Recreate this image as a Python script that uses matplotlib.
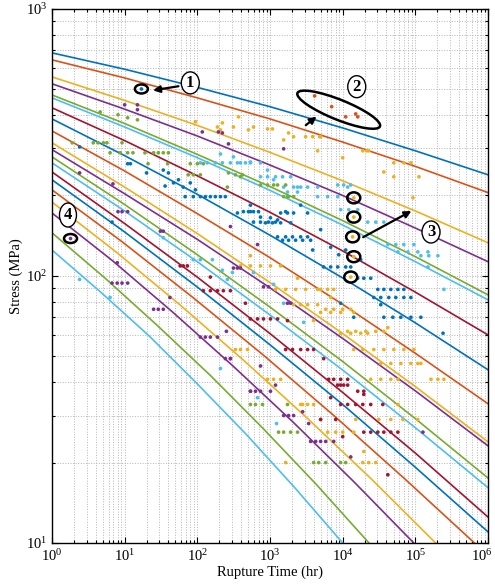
import numpy as np
import matplotlib
matplotlib.use('Agg')
import matplotlib.pyplot as plt
from matplotlib.patches import Ellipse
from matplotlib.transforms import ScaledTranslation

plt.rcParams['font.family'] = ['Liberation Serif', 'DejaVu Serif']
plt.rcParams['mathtext.fontset'] = 'stix'

# MATLAB default colour order
C_BLUE, C_ORANGE, C_YELLOW = '#0072BD', '#D95319', '#EDB120'
C_PURPLE, C_GREEN, C_CYAN, C_RED = '#7E2F8E', '#77AC30', '#4DBEEE', '#A2142F'
order = [C_BLUE, C_ORANGE, C_YELLOW, C_PURPLE, C_GREEN, C_CYAN, C_RED]

# model isotherms (top = lowest temperature)
t_full = [1, 10, 1e2, 1e3, 1e4, 1e5, 1e6]
curve_t = [t_full] * 15 + [
    [1, 9.3, 87, 804, 7450, 69500, 6.5e5],
    [1, 7.6, 58, 437, 3310, 25100, 1.9e5],
    [1, 6.8, 46, 309, 2090, 14100, 9.5e4],
    [1, 5.3, 28, 151, 807, 4300, 2.3e4],
    [1, 4.6, 22, 100, 465, 2150, 1e4],
]
curve_s = [
    [684, 594, 508, 430, 358, 294, 239],
    [644, 551, 464, 387, 317, 257, 205],
    [556, 454, 366, 290, 227, 175, 133],
    [524, 421, 334, 260, 200, 151, 113],
    [476, 372, 285, 216, 161, 118, 84.9],
    [464, 361, 277, 209, 155, 113, 81.3],
    [426, 321, 237, 173, 124, 86.9, 60.1],
    [387, 282, 202, 142, 98.2, 66.7, 44.5],
    [349, 247, 171, 117, 78.2, 51.3, 33.2],
    [315, 215, 144, 94.4, 60.8, 38.5, 23.9],
    [297, 203, 137, 90.2, 58.3, 37.1, 23.1],
    [279, 185, 120, 76.4, 47.8, 29.2, 17.5],
    [265, 175, 113, 71.4, 44.4, 27.0, 16.1],
    [245, 157, 98.9, 60.8, 36.6, 21.7, 12.5],
    [229, 146, 90.8, 55.2, 33.0, 19.2, 11.0],
    [210, 134, 83.0, 50.6, 30.1, 17.5, 10],
    [189, 123, 77.8, 48.2, 29.2, 17.3, 10],
    [172, 114, 73.1, 46.0, 28.3, 17.0, 10],
    [145, 98.4, 65.3, 42.4, 26.8, 16.6, 10],
    [125, 87.3, 59.4, 39.4, 25.6, 16.2, 10],
]

# experimental rupture data, grouped by colour
blue_t = [17, 2.4, 11, 12, 20, 6.7, 34, 40, 47, 55, 64, 80, 36, 94,
          68, 88, 110, 129, 151, 177, 208, 243,
          356, 538, 740, 1015, 1270, 1740,
          867, 1080, 1400, 1920,
          1270, 1640, 2040, 2640, 3290,
          431, 505, 592, 694, 538, 1640, 2640,
          592, 740, 953, 1190,
          1490, 1800, 2250, 2810, 3620,
          5470, 6830, 8530, 11000, 12900,
          16100, 19500, 24300,
          30400, 36800, 45900, 57400, 69400,
          26800, 33400, 43100, 53800, 69400, 86700,
          36800, 48900, 63100, 86700, 119000,
          240000, 14200, 9380, 33400, 6830, 8810, 11000, 17700, 4970, 3860,
          1400, 2110, 3290]
blue_s = [501, 304, 263, 263, 243, 159, 249, 243, 223, 229, 215, 223, 217, 210,
          198, 198, 198, 198, 198, 198, 198, 198,
          172, 174, 166, 165, 162, 172,
          158, 158, 158, 158,
          140, 140, 140, 140, 140,
          174, 174, 174, 174, 184, 174, 184,
          159, 159, 159, 159,
          136, 136, 136, 136, 136,
          108, 108, 108, 108, 108,
          98, 98, 98,
          89, 89, 89, 89, 89,
          83, 83, 83, 83, 83, 83,
          70, 70, 70, 70, 70,
          61, 70, 79, 78, 128, 120, 125, 115, 149, 125,
          172, 172, 172]

orange_t = [4110, 7050, 11000, 15100, 16100]
orange_s = [472, 430, 394, 404, 394]

yellow_t = [592, 925, 1080, 1800, 2110, 3090, 3860, 4820, 4520, 10000,
            18900, 21400, 22800, 50500, 69400, 86700, 36800, 50500, 112000, 92500,
            94, 189, 208, 314, 368, 221, 505, 1540, 4970,
            14200, 14200, 13700, 14200, 12900,
            392, 538, 740, 1015, 1400, 538,
            1190, 1640, 2250, 3090, 4520, 4970, 6210, 7520,
            2110, 2640, 3290, 4520,
            334, 392, 490, 925, 1120, 1400,
            2810, 3290, 3980, 57400, 3980,
            4970, 6830, 9380, 14200, 6830,
            11700, 15100, 20800, 28500, 36800, 41800,
            14200, 18900, 26800, 36800, 50500, 69400, 95300, 108000, 33400,
            24300, 33400, 45900, 57400, 164000, 204000, 247000,
            5830, 7520, 10000, 12900,
            9380, 12900, 17700, 22100,
            45900, 63100, 86700, 119000,
            2390, 6210, 8010, 10000, 14200, 19500,
            18900, 22800, 28500, 1640,
            4970, 15100, 31400, 45900, 67300, 108000, 2640]
yellow_s = [361, 355, 355, 343, 332, 332, 332, 332, 294, 277,
            294, 294, 294, 265, 265, 265, 245, 235, 235, 196,
            378, 361, 352, 361, 394, 374, 352, 323, 332,
            196, 166, 140, 118, 99,
            109, 109, 109, 109, 109, 119,
            89, 89, 89, 89, 89, 89, 89, 89,
            78, 78, 78, 78,
            53, 53, 53, 41, 41, 41,
            33, 33, 33, 33, 68,
            73, 73, 73, 73, 83,
            62, 62, 62, 62, 62, 64,
            53, 53, 53, 53, 53, 53, 53, 47, 47,
            41, 41, 41, 41, 41, 41, 41,
            75, 75, 75, 75,
            61, 61, 61, 61,
            47, 47, 47, 47,
            98, 26, 26, 26, 26, 22,
            20, 20, 20, 20,
            29, 29, 29, 29, 29, 29, 33]

cyan_t = [110, 137, 177, 221, 285, 356, 459, 208, 314, 538, 925,
          740, 925, 1190, 1490, 1920,
          2110, 2640, 3290, 4520, 1540, 2390, 1740, 2390, 1120,
          392, 538, 740, 4520, 6210, 8530, 11700,
          8530, 10300, 12900, 9380, 12100, 16100,
          22100, 28500, 36800,
          41800, 53800, 69400, 95300,
          57400, 78900, 108000, 149000, 149000,
          119000, 153000, 204000, 247000,
          2.4, 6.3, 34, 110, 161, 221, 259, 208, 88, 304, 592,
          1120, 1540, 2900, 673, 1230]
cyan_s = [265, 265, 265, 265, 265, 265, 265, 286, 279, 267, 249,
          235, 235, 235, 235, 235,
          215, 215, 215, 215, 215, 215, 206, 206, 229,
          265, 265, 265, 198, 198, 198, 215,
          219, 219, 219, 177, 177, 177,
          159, 159, 159,
          131, 131, 131, 131,
          123, 123, 123, 123, 108,
          119, 119, 119, 89,
          97, 83, 139, 115, 115, 105, 97, 45, 115, 103, 103,
          93, 79, 67, 35, 28]

purple_t = [10, 15, 15, 2.4, 6.9, 195, 268, 1540, 117, 221, 285, 673, 1.8,
            8.1, 9.2, 11, 31, 34, 7.9, 6.7, 7.9, 9.2, 11, 42,
            25, 29, 34, 110, 129, 151, 189, 285, 251, 243, 285,
            813, 953, 314, 356, 392, 1740, 1920,
            1540, 1800, 2110, 538, 1190, 740, 2810, 3400,
            3620, 4250, 4970, 5830, 7520, 12900, 127000,
            538, 631, 740, 1015]
purple_s = [437, 437, 419, 243, 221, 346, 312, 299, 346, 343, 153, 131, 138,
            174, 174, 174, 147, 147, 112, 94, 94, 94, 94, 83,
            75, 75, 75, 59, 59, 59, 59, 49, 62, 49, 49,
            91, 91, 107, 107, 107, 79, 79,
            30, 30, 30, 37, 39, 46, 31, 28,
            24, 24, 24, 24, 24, 21, 26,
            37, 37, 37, 37]

green_t = [8.1, 11, 15, 4.6,
           1.9, 3.7, 4.3, 5.1, 5.7, 9.2,
           6.3, 8.7, 11, 13, 19, 25, 29, 34, 40,
           21, 39, 80, 100, 121,
           75, 88, 110, 334, 418,
           268, 259, 392, 1540, 1740,
           740, 925, 1120, 1270, 1640,
           1800, 2110,
           538, 631, 789, 1740,
           1310, 1540, 1920, 2390,
           3980, 4670, 5830, 9380, 11000]
green_s = [401, 391, 384, 411,
           315, 315, 315, 315, 315, 315,
           289, 289, 289, 289, 289, 289, 289, 289, 289,
           263, 263, 263, 263, 263,
           239, 239, 239, 239, 239,
           243, 215, 235, 198, 198,
           219, 219, 219, 219, 219,
           198, 198,
           33, 33, 33, 33,
           26, 26, 26, 26,
           20, 20, 20, 20, 20]

red_t = [58, 64, 73,
         121, 151, 189, 228, 285,
         538, 673, 813, 1015, 1270,
         1640, 2040, 2640, 3290, 3980,
         151, 459, 1740, 5470,
         6410, 7520, 9380, 11700, 9380, 6830,
         9380, 11700, 15100, 18900, 24300, 35600, 19500,
         4970, 8010, 8530, 10300, 11700, 16100, 19500,
         19500, 24300, 30400, 36800, 45900, 57400, 10000, 41800]
red_s = [109, 109, 109,
         88, 88, 88, 88, 88,
         69, 69, 69, 69, 69,
         53, 53, 53, 53, 53,
         99, 79, 68, 49,
         41, 41, 41, 41, 39, 35,
         33, 33, 33, 33, 33, 33, 36,
         29, 29, 39, 39, 39, 37, 37,
         26, 26, 26, 26, 26, 26, 25, 18]

# highlighted points
mark1 = (17, 501)
mark3_t = [14200, 14200, 13700, 14200, 12900]
mark3_s = [196, 166, 140, 118, 99]
mark4 = (1.8, 138)

fig = plt.figure(figsize=(4.95, 5.87), dpi=100)
ax = fig.add_axes([0.105, 0.075, 0.881, 0.910])

for i, (tt, ss) in enumerate(zip(curve_t, curve_s)):
    ax.plot(tt, ss, color=order[i % 7], lw=1.2, zorder=2)

groups = [(blue_t, blue_s, C_BLUE), (orange_t, orange_s, C_ORANGE),
          (yellow_t, yellow_s, C_YELLOW), (cyan_t, cyan_s, C_CYAN),
          (purple_t, purple_s, C_PURPLE), (green_t, green_s, C_GREEN),
          (red_t, red_s, C_RED)]
for tt, ss, c in groups:
    ax.scatter(tt, ss, s=7, color=c, edgecolors='none', zorder=3)

ax.set_xscale('log')
ax.set_yscale('log')
ax.set_xlim(1, 1e6)
ax.set_ylim(10, 1000)
ax.grid(True, which='both', linestyle=':', color='#b5b5b5', linewidth=0.7)
ax.tick_params(which='both', direction='in', top=True, right=True,
               labelsize=10.5, width=0.8)
ax.tick_params(which='major', length=4)
ax.tick_params(which='minor', length=2.2)
ax.set_xticks([10.0 ** k for k in range(7)])
ax.set_yticks([10, 100, 1000])
for sp in ax.spines.values():
    sp.set_linewidth(1.0)
ax.set_xlabel('Rupture Time (hr)', fontsize=10.5, labelpad=1)
ax.set_ylabel('Stress (MPa)', fontsize=10.5, labelpad=2)

# keep the last x tick label inside the figure
fig.canvas.draw()
last = ax.get_xticklabels()[-1]
last.set_transform(last.get_transform() + ScaledTranslation(-6 / 100, 0, fig.dpi_scale_trans))


def ring(x, y, w, h, angle=0, lw=1.8):
    # ellipse sized in pixels, centred on a data point
    tr = fig.dpi_scale_trans + ScaledTranslation(x, y, ax.transData)
    e = Ellipse((0, 0), w / 100, h / 100, angle=angle, fill=False,
                ec='black', lw=lw, transform=tr, zorder=5)
    ax.add_patch(e)


def label(x, y, txt, w=18, h=22):
    tr = fig.dpi_scale_trans + ScaledTranslation(x, y, ax.transData)
    ax.add_patch(Ellipse((0, 0), w / 100, h / 100, fc='white', ec='black',
                         lw=1.0, transform=tr, zorder=6))
    ax.text(x, y, txt, ha='center', va='center', fontsize=12,
            fontweight='bold', zorder=7)


arrow = dict(arrowstyle='-|>', color='black', lw=1.6, mutation_scale=10)

# (1)
ring(*mark1, 13, 9)
label(80, 528, '1')
ax.annotate('', xy=(22.5, 493), xytext=(60, 515), arrowprops=arrow, zorder=6)

# (2)
ring(8810, 419, 89, 20, angle=-22)
label(15600, 511, '2')
ax.annotate('', xy=(4670, 401), xytext=(2900, 361), arrowprops=arrow, zorder=6)

# (3)
for tt, ss in zip(mark3_t, mark3_s):
    ring(tt, ss, 13, 11)
label(164000, 146, '3')
ax.annotate('', xy=(95300, 177), xytext=(17700, 138), arrowprops=arrow, zorder=6)

# (4)
ring(*mark4, 13, 9)
label(1.66, 169, '4', w=17, h=24)

fig.savefig('out.png', dpi=100)
plt.close(fig)
